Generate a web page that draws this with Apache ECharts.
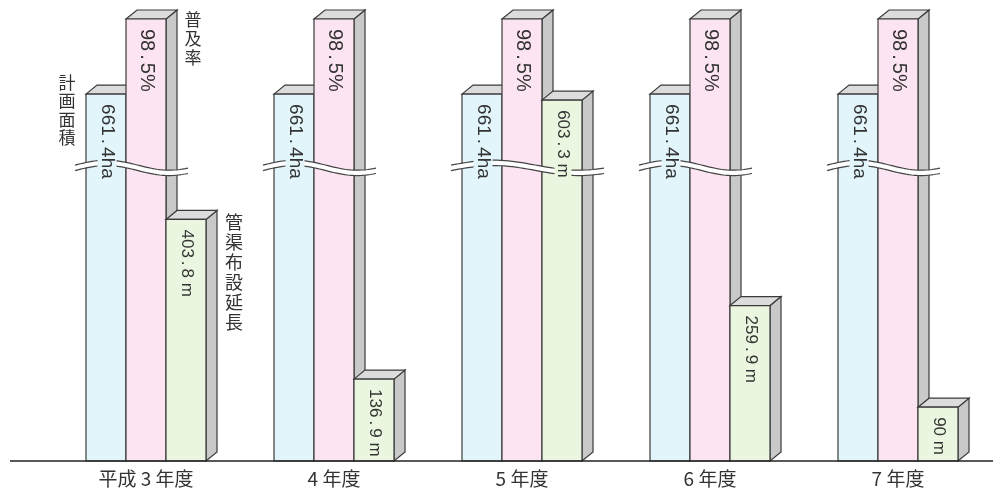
<!DOCTYPE html>
<html><head><meta charset="utf-8">
<script src="https://cdn.jsdelivr.net/npm/echarts@6/dist/echarts.min.js"></script>
<style>html,body{margin:0;padding:0;background:#fff}#c{width:993px;height:490px}</style>
</head><body><div id="c"></div>
<script>
// ---- data ----
const categories = ['平成 3 年度', '4 年度', '5 年度', '6 年度', '7 年度'];
const seriesNames = ['計画面積', '普及率', '管渠布設延長'];
const planArea = [661.4, 661.4, 661.4, 661.4, 661.4];      // ha
const diffusionRate = [98.5, 98.5, 98.5, 98.5, 98.5];      // %
const sewerLength = [403.8, 136.9, 603.3, 259.9, 90];      // m
const units = ['ha', '%', ' m'];

// ---- styling / layout constants ----
const AX_MAX = [813, 100.5, 754];
const BREAK_FRAC = 0.65;
const FILLS = ['#e1f5fb', '#fce4f2', '#eaf6df'];
const TOP_FILL = '#dcdcdc', SIDE_FILL = '#c9c9c9', EDGE = '#3a3a3a';
const DX = 11, DY = 9;
const NUM_FONT = "'Liberation Sans', 'Noto Sans CJK JP', sans-serif";
const JP_FONT = "'Noto Sans CJK JP', sans-serif";
const VAL_SIZE = [19, 20, 17];
const allValues = [planArea, diffusionRate, sewerLength];

function labelRich(v, k) {
  const s = String(v);
  const p = s.split('.');
  if (p.length === 2) return '{n|' + p[0] + '}{d|.}{n|' + p[1] + units[k] + '}';
  return '{n|' + s + units[k] + '}';
}

function makeBar(k) {
  return function (params, api) {
    const i = api.value(0), v = api.value(1);
    const top = api.coord([i, v]);
    const base = api.coord([i, 0]);
    const band = api.size([1, 0])[0];
    const w = band * 40 / 188;
    const cx = base[0] + (k - 1) * w;
    const xl = cx - w / 2, xr = cx + w / 2, yt = top[1], yb = base[1];
    const ls = { stroke: EDGE, lineWidth: 1.2 };
    const children = [
      { type: 'polygon', z2: 0, shape: { points: [[xr, yt], [xr + DX, yt - DY], [xr + DX, yb - DY], [xr, yb]] },
        style: Object.assign({ fill: SIDE_FILL }, ls) },
      { type: 'polygon', z2: 0, shape: { points: [[xl, yt], [xl + DX, yt - DY], [xr + DX, yt - DY], [xr, yt]] },
        style: Object.assign({ fill: TOP_FILL }, ls) },
      { type: 'rect', z2: 0, shape: { x: xl, y: yt, width: w, height: yb - yt },
        style: Object.assign({ fill: FILLS[k] }, ls) },
      { type: 'text', z2: 20, x: cx + 1, y: yt + 9, rotation: -Math.PI / 2,
        style: { text: labelRich(v, k), align: 'left', verticalAlign: 'middle',
          fill: '#333', backgroundColor: FILLS[k], padding: [0, 1],
          rich: {
            n: { fontFamily: NUM_FONT, fontSize: VAL_SIZE[k], fill: '#333' },
            d: { fontFamily: NUM_FONT, fontSize: VAL_SIZE[k], fill: '#333', padding: [0, 3] }
          } } }
    ];
    if (params.dataIndex === 0) {
      const nm = seriesNames[k].split('').join('\n');
      let nx, ny, fs, lh;
      if (k === 0) { nx = xl - 19; ny = yt - 21; fs = 17; lh = 18.5; }
      else if (k === 1) { nx = xr + 27; ny = yt - 9; fs = 17; lh = 19; }
      else { nx = xr + 28; ny = yt - 7; fs = 18; lh = 20; }
      children.push({ type: 'text', z2: 20, x: nx, y: ny,
        style: { text: nm, align: 'center', verticalAlign: 'top', fill: '#333',
          fontFamily: JP_FONT, fontSize: fs, lineHeight: lh } });
    }
    return { type: 'group', children: children };
  };
}

function renderBreak(params, api) {
  const i = api.value(0);
  const vals = [api.value(1), api.value(2), api.value(3)];
  const base = api.coord([i, 0]);
  const band = api.size([1, 0])[0];
  const w = band * 40 / 188;
  const yc = api.coord([i, BREAK_FRAC * AX_MAX[2]])[1];
  let kmin = -1, kmax = -1;
  for (let k = 0; k < 3; k++) {
    if (vals[k] / AX_MAX[k] > BREAK_FRAC) { if (kmin < 0) kmin = k; kmax = k; }
  }
  if (kmin < 0) return null;
  const x0 = base[0] + (kmin - 1) * w - w / 2 - 11;
  const x1 = base[0] + (kmax - 1) * w + w / 2 + DX + 11;
  const up = [], lo = [];
  const N = 40, A = 5, g = 2.7;
  for (let j = 0; j <= N; j++) {
    const t = j / N;
    const x = x0 + t * (x1 - x0);
    const y = yc - A * Math.sin(2 * Math.PI * 0.9 * t);
    up.push([x, y - g]); lo.push([x, y + g]);
  }
  const poly = up.concat(lo.slice().reverse());
  return { type: 'group', children: [
    { type: 'polygon', z2: 10, shape: { points: poly }, style: { fill: '#fff', stroke: null } },
    { type: 'polyline', z2: 11, shape: { points: up }, style: { stroke: '#444', lineWidth: 1.2, fill: null } },
    { type: 'polyline', z2: 11, shape: { points: lo }, style: { stroke: '#444', lineWidth: 1.2, fill: null } }
  ] };
}

const chart = echarts.init(document.getElementById('c'), null, { renderer: 'canvas' });
const barSeries = allValues.map(function (arr, k) {
  return {
    type: 'custom', name: seriesNames[k], yAxisIndex: k, renderItem: makeBar(k),
    encode: { x: 0, y: 1 }, clip: false,
    data: arr.map(function (v, i) { return [i, v]; })
  };
});
barSeries.push({
  type: 'custom', name: 'break', yAxisIndex: 2, renderItem: renderBreak, clip: false,
  encode: { x: 0, y: 3 },
  data: categories.map(function (c, i) { return [i, planArea[i], diffusionRate[i], sewerLength[i]]; })
});

chart.setOption({
  backgroundColor: '#fff',
  animation: false,
  grid: { left: 52, right: 1, top: 10, bottom: 29 },
  xAxis: {
    type: 'category', data: categories,
    axisLine: { show: false }, axisTick: { show: false }, splitLine: { show: false },
    axisLabel: { margin: 8, fontSize: 19, color: '#333', fontFamily: JP_FONT }
  },
  yAxis: AX_MAX.map(function (m) {
    return { type: 'value', min: 0, max: m, show: false, splitLine: { show: false } };
  }),
  series: barSeries
});

const yb = chart.convertToPixel({ yAxisIndex: 0 }, 0);
chart.setOption({
  graphic: [{ type: 'line', z: 10, shape: { x1: 10, y1: yb, x2: 993, y2: yb },
    style: { stroke: '#222', lineWidth: 1.6 } }]
});
</script>
</body></html>
